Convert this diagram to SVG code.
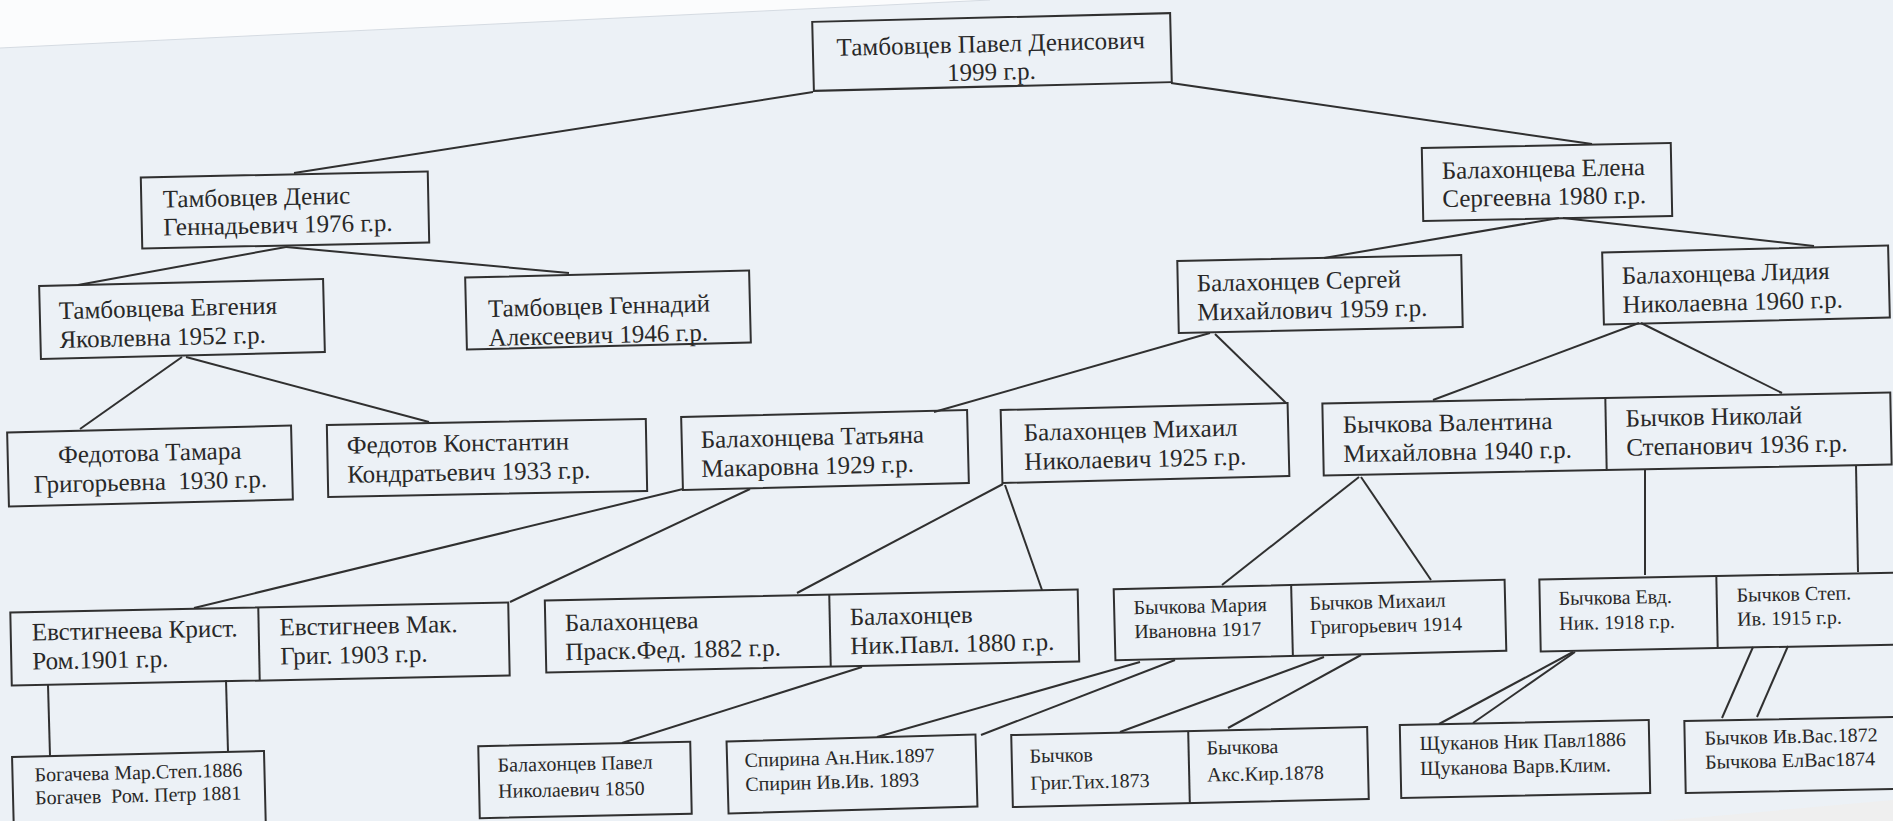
<svg xmlns="http://www.w3.org/2000/svg" width="1893" height="821" viewBox="0 0 1893 821">
<style>
.bg{fill:#ecf1f6}
.box{fill:none;stroke:#303030;stroke-width:2}
.ln{fill:none;stroke:#303030;stroke-width:2}
.t{font-family:"Liberation Serif","Times New Roman",serif;font-size:25px;fill:#282828;white-space:pre}
.s{font-size:20px}
.c{text-anchor:middle}
</style>
<rect class="bg" x="0" y="0" width="1893" height="821"/>
<polygon points="0,0 990,0 0,48" fill="#fbfcfd"/>
<line x1="0" y1="48" x2="990" y2="0" stroke="#d5dbe2" stroke-width="1"/>
<polygon points="1660,821 1893,800 1893,821" fill="#efefef"/>

<g id="connectors">
<line class="ln" x1="813" y1="92" x2="294" y2="173"/>
<line class="ln" x1="1171" y1="83" x2="1592" y2="144"/>
<line class="ln" x1="286" y1="247" x2="78" y2="285"/>
<line class="ln" x1="286" y1="247" x2="569" y2="273"/>
<line class="ln" x1="182" y1="357" x2="80" y2="429"/>
<line class="ln" x1="186" y1="357" x2="429" y2="422"/>
<line class="ln" x1="1559" y1="218" x2="1324" y2="258"/>
<line class="ln" x1="1563" y1="218" x2="1814" y2="246"/>
<line class="ln" x1="1210" y1="333" x2="934" y2="412"/>
<line class="ln" x1="1215" y1="334" x2="1286" y2="403"/>
<line class="ln" x1="1639" y1="323" x2="1433" y2="400"/>
<line class="ln" x1="1641" y1="323" x2="1782" y2="393"/>
<line class="ln" x1="683" y1="489" x2="194" y2="608"/>
<line class="ln" x1="750" y1="489" x2="510" y2="602"/>
<line class="ln" x1="1003" y1="484" x2="797" y2="593"/>
<line class="ln" x1="1005" y1="485" x2="1042" y2="590"/>
<line class="ln" x1="1359" y1="477" x2="1222" y2="585"/>
<line class="ln" x1="1361" y1="477" x2="1431" y2="580"/>
<line class="ln" x1="1645" y1="469" x2="1645" y2="575"/>
<line class="ln" x1="1856" y1="465" x2="1858" y2="572"/>
<line class="ln" x1="48" y1="685" x2="50" y2="756"/>
<line class="ln" x1="226" y1="680" x2="228" y2="752"/>
<line class="ln" x1="862" y1="667" x2="622" y2="743"/>
<line class="ln" x1="1140" y1="662" x2="877" y2="737"/>
<line class="ln" x1="1175" y1="660" x2="981" y2="735"/>
<line class="ln" x1="1324" y1="657" x2="1120" y2="732"/>
<line class="ln" x1="1361" y1="655" x2="1228" y2="728"/>
<line class="ln" x1="1573" y1="652" x2="1439" y2="724"/>
<line class="ln" x1="1575" y1="652" x2="1473" y2="723"/>
<line class="ln" x1="1753" y1="647" x2="1722" y2="718"/>
<line class="ln" x1="1788" y1="646" x2="1757" y2="717"/>
</g>

<g id="n-root" transform="rotate(-1.4 992 52)">
<rect class="box" x="813" y="17.5" width="358" height="69"/>
<text class="t c" x="991" y="52">Тамбовцев Павел Денисович</text>
<text class="t c" x="991" y="80">1999 г.р.</text>
</g>
<g id="n-denis" transform="rotate(-1.2 285 210)">
<rect class="box" x="141.5" y="174.5" width="287" height="71"/>
<text class="t" x="163" y="205">Тамбовцев Денис</text>
<text class="t" x="163" y="233">Геннадьевич 1976 г.р.</text>
</g>
<g id="n-elena" transform="rotate(-1.15 1547 182)">
<rect class="box" x="1422.5" y="145.5" width="249" height="73"/>
<text class="t" x="1442" y="177">Балахонцева Елена</text>
<text class="t" x="1442" y="205">Сергеевна 1980 г.р.</text>
</g>
<g id="n-evgenia" transform="rotate(-1.4 182 319)">
<rect class="box" x="40" y="282.5" width="284" height="73"/>
<text class="t" x="59" y="316">Тамбовцева Евгения</text>
<text class="t" x="59" y="345">Яковлевна 1952 г.р.</text>
</g>
<g id="n-gennadiy" transform="rotate(-1.4 608 310)">
<rect class="box" x="466" y="274" width="284" height="72"/>
<text class="t" x="488" y="314">Тамбовцев Геннадий</text>
<text class="t" x="488" y="343">Алексеевич 1946 г.р.</text>
</g>
<g id="n-fedotova" transform="rotate(-1.4 150 466)">
<rect class="box" x="8" y="429" width="284" height="74"/>
<text class="t c" x="150" y="461">Федотова Тамара</text>
<text class="t c" x="150" y="490">Григорьевна  1930 г.р.</text>
</g>
<g id="n-fedotov" transform="rotate(-1.1 487 458)">
<rect class="box" x="327.5" y="422" width="319" height="72"/>
<text class="t" x="347" y="451">Федотов Константин</text>
<text class="t" x="347" y="480">Кондратьевич 1933 г.р.</text>
</g>
<g id="n-sergei" transform="rotate(-1.2 1320 294)">
<rect class="box" x="1178" y="258" width="284" height="72"/>
<text class="t" x="1197" y="289">Балахонцев Сергей</text>
<text class="t" x="1197" y="318">Михайлович 1959 г.р.</text>
</g>
<g id="n-lidiya" transform="rotate(-1.4 1746 285)">
<rect class="box" x="1603" y="249" width="286" height="72"/>
<text class="t" x="1622" y="281">Балахонцева Лидия</text>
<text class="t" x="1622" y="310">Николаевна 1960 г.р.</text>
</g>
<g id="n-tatiana" transform="rotate(-1.4 825 450)">
<rect class="box" x="682" y="413.5" width="286" height="73"/>
<text class="t" x="701" y="445">Балахонцева Татьяна</text>
<text class="t" x="701" y="474">Макаровна 1929 г.р.</text>
</g>
<g id="n-mikhail" transform="rotate(-1.4 1145 443)">
<rect class="box" x="1001.5" y="406.5" width="287" height="73"/>
<text class="t" x="1024" y="438">Балахонцев Михаил</text>
<text class="t" x="1024" y="467">Николаевич 1925 г.р.</text>
</g>
<g id="n-bychkov-vn" transform="rotate(-1.1 1607 434)">
<rect class="box" x="1323" y="398" width="568" height="72"/>
<line class="ln" x1="1606" y1="398" x2="1606" y2="470"/>
<text class="t" x="1343" y="428">Бычкова Валентина</text>
<text class="t" x="1343" y="457">Михайловна 1940 г.р.</text>
<text class="t" x="1626" y="427">Бычков Николай</text>
<text class="t" x="1626" y="456">Степанович 1936 г.р.</text>
</g>
<g id="n-evstigneev" transform="rotate(-1.15 260 644)">
<rect class="box" x="11" y="607.5" width="498" height="73"/>
<line class="ln" x1="259" y1="607.5" x2="259" y2="680.5"/>
<text class="t" x="32" y="636">Евстигнеева Крист.</text>
<text class="t" x="32" y="665">Ром.1901 г.р.</text>
<text class="t" x="280" y="636">Евстигнеев Мак.</text>
<text class="t" x="280" y="665">Григ. 1903 г.р.</text>
</g>
<g id="n-balakhontsev-np" transform="rotate(-1.2 812 631)">
<rect class="box" x="545.5" y="595" width="533" height="72"/>
<line class="ln" x1="830" y1="595" x2="830" y2="667"/>
<text class="t" x="565" y="626">Балахонцева</text>
<text class="t" x="565" y="655">Праск.Фед. 1882 г.р.</text>
<text class="t" x="850" y="626">Балахонцев</text>
<text class="t" x="850" y="655">Ник.Павл. 1880 г.р.</text>
</g>
<g id="n-pavel" transform="rotate(-1.2 585 780)">
<rect class="box" x="479" y="744" width="212" height="72"/>
<text class="t s" x="498" y="770">Балахонцев Павел</text>
<text class="t s" x="498" y="796">Николаевич 1850</text>
</g>
<g id="n-bychkov-mm" transform="rotate(-1.4 1310 620)">
<rect class="box" x="1114.5" y="584.5" width="391" height="71"/>
<line class="ln" x1="1292" y1="584.5" x2="1292" y2="655.5"/>
<text class="t s" x="1134" y="610">Бычкова Мария</text>
<text class="t s" x="1134" y="634">Ивановна 1917</text>
<text class="t s" x="1310" y="610">Бычков Михаил</text>
<text class="t s" x="1310" y="634">Григорьевич 1914</text>
</g>
<g id="n-bychkov-es" transform="rotate(-1.1 1720 612)">
<rect class="box" x="1540" y="576" width="380" height="72"/>
<line class="ln" x1="1717" y1="576" x2="1717" y2="648"/>
<text class="t s" x="1559" y="602">Бычкова Евд.</text>
<text class="t s" x="1559" y="627">Ник. 1918 г.р.</text>
<text class="t s" x="1737" y="602">Бычков Степ.</text>
<text class="t s" x="1737" y="626">Ив. 1915 г.р.</text>
</g>
<g id="n-spirin" transform="rotate(-1.6 852 774)">
<rect class="box" x="727.5" y="738" width="249" height="72"/>
<text class="t s" x="745" y="764">Спирина Ан.Ник.1897</text>
<text class="t s" x="745" y="788">Спирин Ив.Ив. 1893</text>
</g>
<g id="n-bychkov-ga" transform="rotate(-1.3 1190 767)">
<rect class="box" x="1012" y="731" width="356" height="72"/>
<line class="ln" x1="1189" y1="731" x2="1189" y2="803"/>
<text class="t s" x="1030" y="759">Бычков</text>
<text class="t s" x="1030" y="786">Григ.Тих.1873</text>
<text class="t s" x="1207" y="755">Бычкова</text>
<text class="t s" x="1207" y="782">Акс.Кир.1878</text>
</g>
<g id="n-shchukanov" transform="rotate(-1.15 1525 759)">
<rect class="box" x="1400.5" y="722.5" width="249" height="73"/>
<text class="t s" x="1420" y="748">Щуканов Ник Павл1886</text>
<text class="t s" x="1420" y="773">Щуканова Варв.Клим.</text>
</g>
<g id="n-bychkov-iv" transform="rotate(-1.1 1792 755)">
<rect class="box" x="1685" y="719" width="260" height="72"/>
<text class="t s" x="1705" y="743">Бычков Ив.Вас.1872</text>
<text class="t s" x="1705" y="767">Бычкова ЕлВас1874</text>
</g>
<g id="n-bogachev" transform="rotate(-1.4 139 794)">
<rect class="box" x="13" y="754" width="252" height="80"/>
<text class="t s" x="35" y="779">Богачева Мар.Степ.1886</text>
<text class="t s" x="35" y="802">Богачев  Ром. Петр 1881</text>
</g>
</svg>
